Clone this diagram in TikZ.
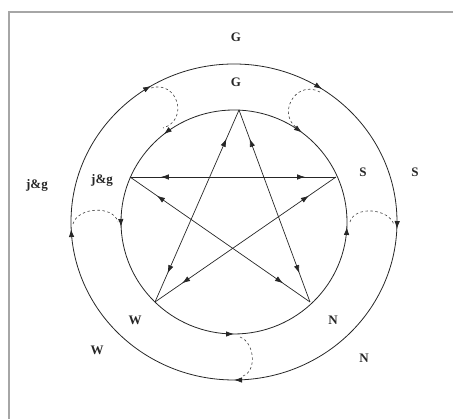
\documentclass[tikz,border=0pt]{standalone}
\usepackage{fontspec}
\setmainfont{Liberation Serif}
\usetikzlibrary{arrows.meta,decorations.markings}

\begin{document}
\begin{tikzpicture}[
  x=1pt, y=1pt,
  lbl/.style={font=\fontsize{13}{13}\selectfont\bfseries, text=black!85, inner sep=0pt},
  ring/.style={line width=0.8pt, black!85},
  star/.style={line width=0.7pt, black!85},
  loopback/.style={dash pattern=on 2.5pt off 2.5pt, line width=0.6pt, black!75},
  fwd/.style={postaction={decorate, decoration={markings, mark=at position #1 with {\arrow{Latex[length=8pt,width=5.5pt]}}}}},
  bwd/.style={postaction={decorate, decoration={markings, mark=at position #1 with {\arrowreversed{Latex[length=8pt,width=5.5pt]}}}}},
  twoway/.style={fwd=0.85, bwd=0.15}
]
\useasboundingbox (0,0) rectangle (453,419);
% window frame
\draw[gray!70, line width=1.5pt] (9,0) -- (9,407) -- (453,407);

\coordinate (c) at (234,197);
% outer ring runs clockwise, inner ring mostly the other way
\draw[ring, bwd=0.158, bwd=0.336, bwd=0.507, bwd=0.75, bwd=0.993] (c) ellipse [x radius=163, y radius=158];
\draw[ring, bwd=0.147, fwd=0.357, fwd=0.507, fwd=0.75, fwd=0.993] (c) ellipse [x radius=113, y radius=112];

% star corners
\coordinate (vg) at (239,309);
\coordinate (vj) at (130,242);
\coordinate (vs) at (336,242);
\coordinate (vw) at (155,117);
\coordinate (vn) at (310,117);
\draw[star, twoway] (vg) -- (vw);
\draw[star, twoway] (vg) -- (vn);
\draw[star, twoway] (vj) -- (vs);
\draw[star, twoway] (vj) -- (vn);
\draw[star, twoway] (vs) -- (vw);

% dashed turns between the rings
\coordinate (tlo) at (151,331);
\coordinate (tli) at (163,291);
\coordinate (tro) at (320,327);
\coordinate (tri) at (300,289);
\coordinate (lo) at (73,195);
\coordinate (li) at (118,197);
\coordinate (ri) at (350,197);
\coordinate (ro) at (394,194);
\coordinate (bi) at (240,82);
\coordinate (bo) at (243,43);
\draw[loopback] (tlo) to[out=17, in=17, looseness=1.7] (tli);
\draw[loopback] (tro) to[out=152, in=152, looseness=1.7] (tri);
\draw[loopback] (lo) to[out=75, in=105] (li);
\draw[loopback] (ri) to[out=75, in=105] (ro);
\draw[loopback] (bi) to[out=-20, in=20] (bo);

% labels
\node[lbl] (gOut) at (236,382) {G};
\node[lbl] (gIn) at (236,337) {G};
\node[lbl] (sIn) at (363,247) {S};
\node[lbl] (sOut) at (415,247) {S};
\node[lbl] (jOut) at (37,234) {j\&g};
\node[lbl] (jIn) at (102,239) {j\&g};
\node[lbl] (wIn) at (135,99) {W};
\node[lbl] (wOut) at (97,69) {W};
\node[lbl] (nIn) at (333,99) {N};
\node[lbl] (nOut) at (364,61) {N};
\end{tikzpicture}
\end{document}
